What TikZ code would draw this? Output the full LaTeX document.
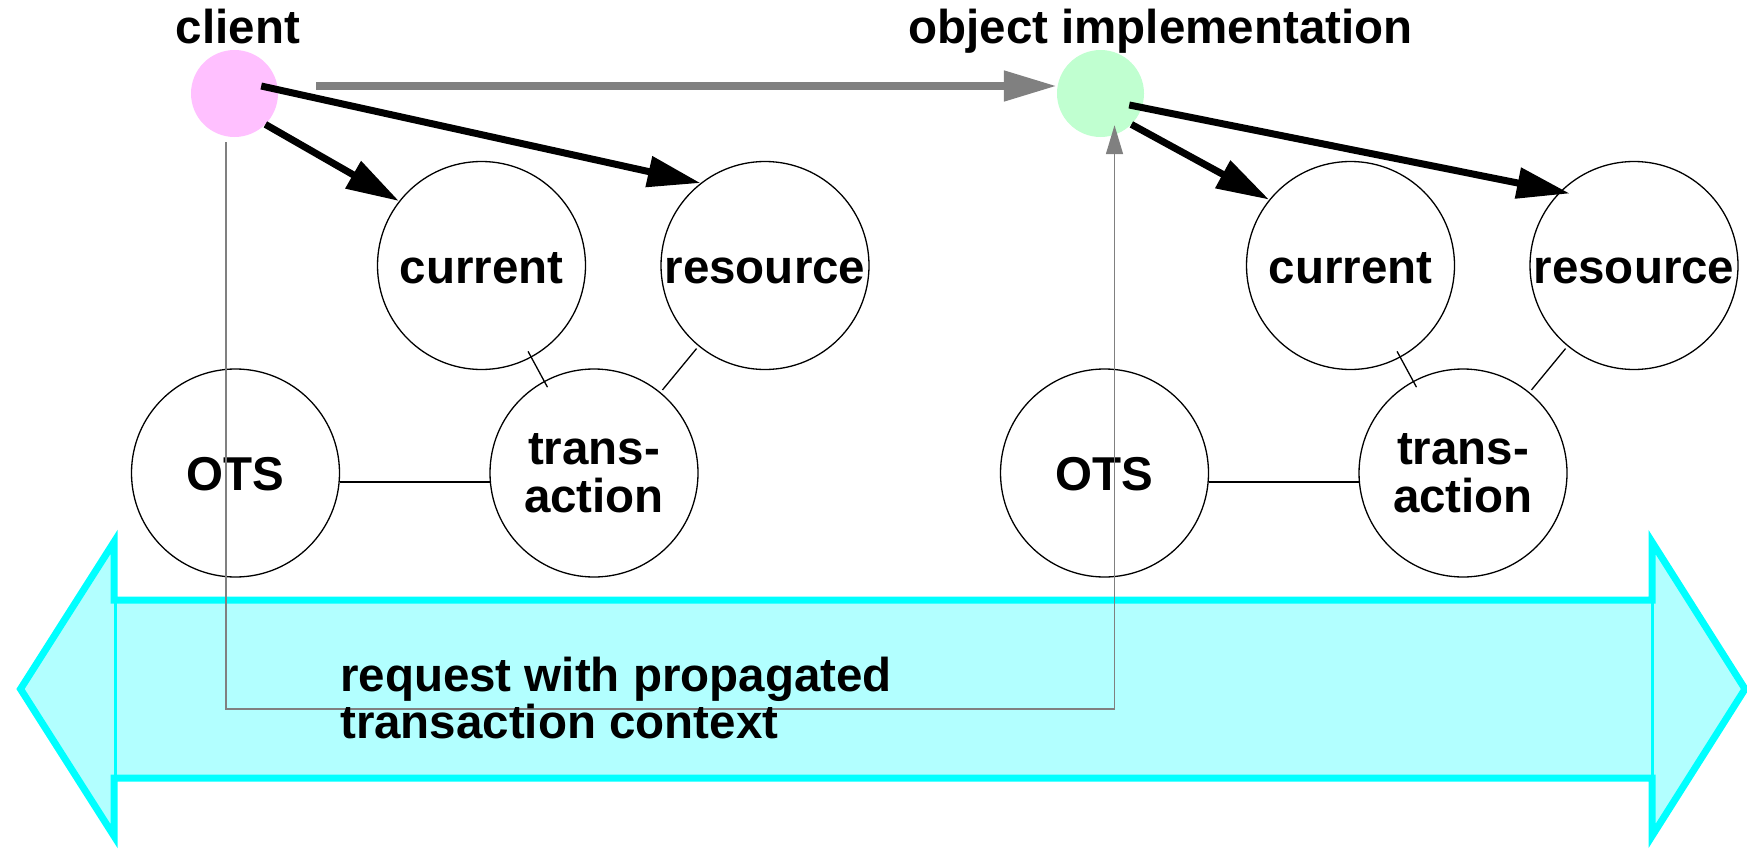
\documentclass[tikz,border=0pt]{standalone}
\usepackage{fontspec}
\setmainfont{Liberation Sans}
\usetikzlibrary{arrows.meta}

\definecolor{ctxcyan}{RGB}{0,255,255}
\definecolor{ctxfill}{RGB}{178,255,255}
\definecolor{clientpink}{RGB}{255,192,255}
\definecolor{objgreen}{RGB}{192,255,208}
\definecolor{wiregray}{RGB}{128,128,128}

\newcommand\compfont{\fontsize{47.5}{47.6}\selectfont\bfseries}

\tikzset{
  comp/.style={circle, draw, line width=1.3pt, minimum size=208pt, inner sep=0pt, font=\compfont, align=center},
  onerow/.style={text height=35pt, text depth=0pt},
  endpt/.style={circle, minimum size=87pt, inner sep=0pt},
  endlbl/.style={font=\compfont, inner sep=0pt, anchor=base},
  call/.style={line width=7pt, -{Triangle[length=53pt,width=30pt]}},
  link/.style={line width=1.3pt},
  request/.style={color=wiregray, line width=8pt, -{Triangle[length=53pt,width=29pt]}},
  ctxwire/.style={color=wiregray, line width=1.5pt, -{Triangle[length=29pt,width=17pt]}},
}

\begin{document}
\begin{tikzpicture}[x=1pt, y=-1pt]
    \useasboundingbox (0,0) rectangle (1747,851);

    % propagation band
    \draw[ctxcyan, fill=ctxfill, line width=7pt] (20.5,689) -- (114,542) -- (114,600) -- (1652,600) -- (1652,542) -- (1745,689)
        -- (1652,836) -- (1652,778) -- (114,778) -- (114,836) -- cycle;
    \draw[ctxcyan, line width=3pt] (115,600) -- (115,778) (1652,600) -- (1652,778);

    % client side
    \node (client) [endpt, fill=clientpink] at (234.5,93.5) {};
    \node (clientlbl) [endlbl] at (238,44) {client};
    \node (cur1) [comp, onerow] at (481.5,265.5) {current};
    \node (res1) [comp, onerow] at (765,265.5) {resource};
    \node (ots1) [comp, onerow] at (235.5,473) {OTS};
    \node (tx1) [comp] at (594,473) {trans-\\action};

    % object side
    \node (objimpl) [endpt, fill=objgreen] at (1100.5,93.5) {};
    \node (objlbl) [endlbl] at (1160.5,44) {object implementation};
    \node (cur2) [comp, onerow] at (1350.5,265.5) {current};
    \node (res2) [comp, onerow] at (1634,265.5) {resource};
    \node (ots2) [comp, onerow] at (1104.5,473) {OTS};
    \node (tx2) [comp] at (1463,473) {trans-\\action};

    \draw[link, shorten <=-7pt, shorten >=-7pt] (cur1) -- (tx1);
    \draw[link, shorten <=3pt, shorten >=3pt] (res1) -- (tx1);
    \draw[link] (ots1.-5.5) -- (tx1.185.5);
    \draw[link, shorten <=-7pt, shorten >=-7pt] (cur2) -- (tx2);
    \draw[link, shorten <=3pt, shorten >=3pt] (res2) -- (tx2);
    \draw[link] (ots2.-5.5) -- (tx2.185.5);

    \draw[call] ([xshift=-17pt,yshift=7.5pt]client.east) -- (res1.128);
    \draw[call] (client.south east) -- (cur1.142);
    \draw[call, shorten >=-10pt] ([xshift=-15pt,yshift=-11.5pt]objimpl.east) -- (res2.135);
    \draw[call] (objimpl.south east) -- (cur2.141);

    \draw[request, shorten <=38pt] ([yshift=7.5pt]client.east) -- ([yshift=7.5pt]objimpl.west);
    \draw[ctxwire, shorten <=5pt, shorten >=-12pt] ([xshift=-8.5pt]client.south) -- ++(0,572) -| ([xshift=14pt]objimpl.south);

    \node (reqtxt) [font=\compfont, align=left, inner sep=0pt, anchor=north west] at (340,656.7) {request with propagated\\transaction context};
\end{tikzpicture}
\end{document}
